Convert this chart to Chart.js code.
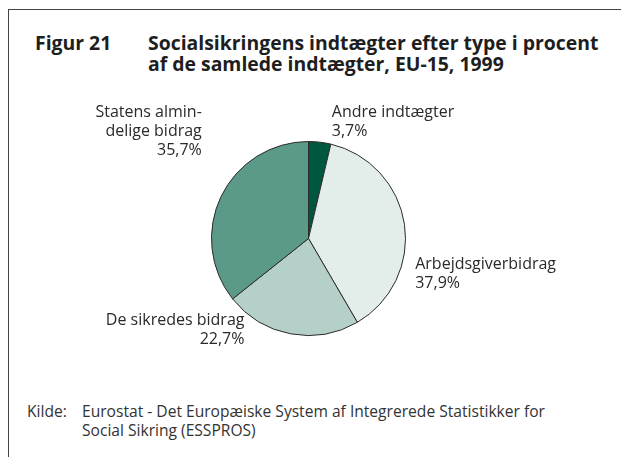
<!DOCTYPE html>
<html>
<head>
<meta charset="utf-8">
<script src="https://cdn.jsdelivr.net/npm/chart.js@4"></script>
<style>
  html, body { margin: 0; padding: 0; background: #fff; }
  body { width: 621px; height: 457px; position: relative; overflow: hidden; font-family: "Open Sans", sans-serif; color: #222; }
  .frame { position: absolute; left: 8px; top: 9px; right: -2px; bottom: -2px; border-left: 1px solid #444; border-top: 1px solid #444; }
  .title { position: absolute; top: 32px; font-weight: bold; font-size: 19.4px; line-height: 21px; color: #1e1e1e; }
  .foot { position: absolute; top: 402px; font-size: 15.6px; line-height: 19px; color: #333; }
  #wrap { position: absolute; left: 0; top: 0; width: 621px; height: 457px; }
</style>
</head>
<body>
<div class="frame"></div>
<div class="title" style="left:35px">Figur 21</div>
<div class="title" style="left:148px">Socialsikringens indtægter efter type i procent<br>af de samlede indtægter, EU-15, 1999</div>
<div class="foot" style="left:27px">Kilde:</div>
<div class="foot" style="left:82px">Eurostat - Det Europæiske System af Integrerede Statistikker for<br>Social Sikring (ESSPROS)</div>
<div id="wrap"><canvas id="pieChart"></canvas></div>
<script>
(function() {

    const categories = [['Andre indtægter'], ['Arbejdsgiverbidrag'], ['De sikredes bidrag'], ['Statens almin-', 'delige bidrag']];
    const shares = [3.7, 37.9, 22.7, 35.7];
    const sliceColors = ['#00573f', '#e3eeea', '#b4d0c8', '#5b9a88'];

    // where each label block sits, in units of the pie radius from its centre
    const labelSpots = [
        { dx: 0.24, dy: -1.2, align: 'left' },
        { dx: 1.10, dy: 0.37, align: 'left' },
        { dx: -0.66, dy: 0.94, align: 'right' },
        { dx: -1.10, dy: -1.10, align: 'right' }
    ];

    const sliceLabels = {
        id: 'sliceLabels',
        afterDatasetsDraw(chart) {
            const ctx = chart.ctx;
            const arcs = chart.getDatasetMeta(0).data;
            ctx.save();
            ctx.font = '16px "Open Sans", sans-serif';
            ctx.fillStyle = '#2a2a2a';
            ctx.textBaseline = 'middle';
            arcs.forEach((arc, i) => {
                const spot = labelSpots[i];
                const r = arc.outerRadius;
                const x = arc.x + spot.dx * r;
                const yc = arc.y + spot.dy * r;
                const lines = categories[i].concat([shares[i].toFixed(1).replace('.', ',') + '%']);
                const lh = 19;
                const top = yc - (lines.length - 1) * lh / 2;
                ctx.textAlign = spot.align;
                lines.forEach((t, k) => ctx.fillText(t, x, top + k * lh));
            });
            ctx.restore();
        }
    };

    new Chart(document.getElementById('pieChart'), {
        type: 'pie',
        data: {
            labels: categories,
            datasets: [{
                data: shares,
                backgroundColor: sliceColors,
                borderColor: '#2b2b2b',
                borderWidth: 1
            }]
        },
        options: {
            responsive: true,
            maintainAspectRatio: false,
            animation: false,
            layout: { padding: { top: 141, bottom: 121, left: 200, right: 204 } },
            plugins: {
                legend: { display: false },
                tooltip: { enabled: false }
            }
        },
        plugins: [sliceLabels]
    });

})();
</script>
</body>
</html>
